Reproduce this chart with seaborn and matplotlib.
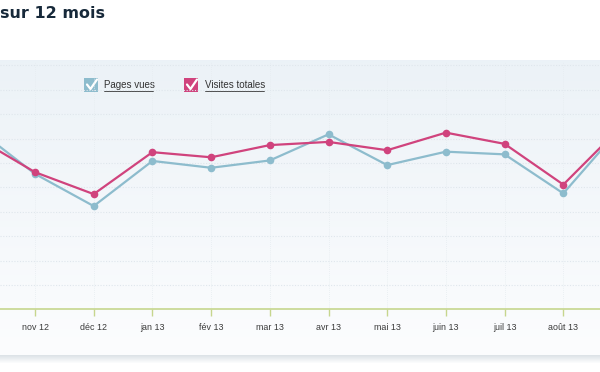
import numpy as np
import matplotlib
matplotlib.use('Agg')
import matplotlib.pyplot as plt
import seaborn as sns
from matplotlib.patches import Rectangle

# Data (arbitrary units - y axis labels are cropped)
mois = ['oct 12', 'nov 12', 'déc 12', 'jan 13', 'fév 13', 'mar 13', 'avr 13',
        'mai 13', 'juin 13', 'juil 13', 'août 13', 'sep 13']
pages_vues = [7410, 5550, 4230, 6080, 5800, 6100, 7170, 5910, 6460, 6350, 4750, 7500]
visites_totales = [7040, 5620, 4720, 6440, 6230, 6730, 6860, 6520, 7240, 6780, 5110, 7520]

col_pages = '#8dbccd'
col_visites = '#d0437d'
col_axis = '#c6d68e'

sns.set_theme(style='white')
plt.rcParams['font.family'] = ['Liberation Sans', 'DejaVu Sans']

W, H = 600, 372
fig = plt.figure(figsize=(6, 3.72), dpi=100)
fig.patch.set_facecolor('white')

# background panel with a soft gradient and shadow
bg = fig.add_axes([0, 0, 1, 1], zorder=0)
bg.axis('off')
grad = np.linspace(0, 1, 256).reshape(-1, 1)
top = np.array([0.925, 0.949, 0.969])
bot = np.array([0.988, 0.992, 0.996])
img = top + (bot - top) * grad[..., None]
bg.imshow(img, extent=[0, W, 355, 60], aspect='auto')
for k in range(8):
    a = 0.35 * (1 - k / 8)
    bg.add_patch(Rectangle((0, 355 + k), W, 1, color='#9fb0bd', alpha=a, lw=0))
bg.set_xlim(0, W)
bg.set_ylim(H, 0)

# title (cropped on the left in the original)
fig.text(0, 1 - 13 / H, 'sur 12 mois', fontsize=11.5, fontweight='bold',
         color='#17293a', va='center', ha='left', family='DejaVu Sans')

# main axes
y0, y1 = 309.3, 62
ax = fig.add_axes([0, 1 - y0 / H, 1, (y0 - y1) / H], zorder=2)
ax.set_facecolor('none')
x = np.arange(len(mois))
sns.lineplot(x=x, y=pages_vues, ax=ax, color=col_pages, marker='o',
             markersize=5.5, markeredgewidth=0, linewidth=1.6)
sns.lineplot(x=x, y=visites_totales, ax=ax, color=col_visites, marker='o',
             markersize=5.5, markeredgewidth=0, linewidth=1.6)

ax.set_yticks(np.arange(1000, 10001, 1000))
ax.set_xticks(x)
ax.set_xticklabels(mois)
ax.set_xlim(23.7 / 58.7, (600 + 23.7) / 58.7)
ax.set_ylim(0, (y0 - y1) / 24.4 * 1000)
ax.tick_params(axis='x', colors=col_axis, length=5, width=1, direction='out',
               labelcolor='#3a3a3a', labelsize=6.4, pad=5, bottom=True)
ax.tick_params(axis='y', left=False, labelleft=False)
ax.grid(True, axis='y', color='#dfe6ec', linestyle=(0, (1, 1.5)), linewidth=0.8)
ax.grid(True, axis='x', color='#e6ecf0', linestyle=(0, (1, 1.5)), linewidth=0.6)
for s in ['top', 'left', 'right']:
    ax.spines[s].set_visible(False)
ax.spines['bottom'].set_color(col_axis)
ax.spines['bottom'].set_linewidth(1.2)
ax.set_axisbelow(True)
for l in ax.lines:
    l.set_zorder(3)

# legend with checkbox look
def checkbox(xp, color, label, tx, tw):
    bg.add_patch(Rectangle((xp, 78), 14, 14, color=color, lw=0, zorder=3))
    bg.plot([xp + 3, xp + 6.5, xp + 13], [84.5, 89, 79.5], color='white', lw=1.6,
            solid_capstyle='round', zorder=4)
    bg.text(tx, 85.5, label, fontsize=7, color='#333333', va='center', ha='left')
    bg.plot([tx, tx + tw], [90.5, 90.5], color='#333333', lw=0.6)

checkbox(84, col_pages, 'Pages vues', 104, 49)
checkbox(184, col_visites, 'Visites totales', 205, 59)

fig.savefig('out.png', dpi=100)
